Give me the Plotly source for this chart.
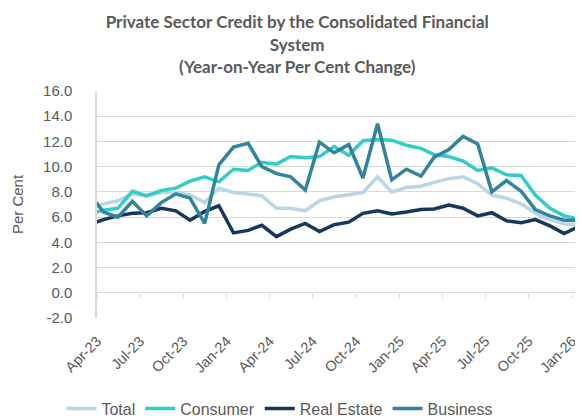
import plotly.graph_objects as go
import pandas as pd

# monthly observations, Mar-23 .. Jan-26 (Mar-23 sits just left of the axis start)
months = pd.date_range("2023-03-01", "2026-01-01", freq="MS") + pd.Timedelta(days=14)

total = [6.65, 7.05, 7.3, 7.85, 7.65, 7.95, 7.95, 7.75, 7.15, 8.3,
         7.95, 7.8, 7.7, 6.7, 6.7, 6.5, 7.3, 7.6, 7.8, 7.95, 9.2, 8.0,
         8.35, 8.45, 8.75, 9.05, 9.2, 8.65, 7.75, 7.5, 7.05, 6.3, 5.8, 5.45,
         5.4]
consumer = [6.25, 6.55, 6.7, 8.05, 7.7, 8.1, 8.3, 8.85, 9.2, 8.8,
            9.8, 9.7, 10.35, 10.2, 10.8, 10.7, 10.8, 11.6, 10.9, 12.05, 12.15, 12.1,
            11.7, 11.45, 10.95, 10.8, 10.45, 9.7, 9.9, 9.35, 9.3, 7.75, 6.7, 6.1,
            5.85]
real_estate = [5.4, 5.8, 6.1, 6.3, 6.35, 6.7, 6.5, 5.75, 6.45, 6.9,
               4.75, 4.95, 5.35, 4.45, 5.05, 5.5, 4.85, 5.4, 5.6, 6.3, 6.5, 6.25,
               6.4, 6.6, 6.65, 6.95, 6.7, 6.1, 6.35, 5.7, 5.55, 5.8, 5.3, 4.7,
               5.25]
business = [7.9, 6.4, 6.0, 7.25, 6.1, 7.15, 7.85, 7.5, 5.5, 10.15,
            11.55, 11.85, 10.0, 9.45, 9.2, 8.15, 11.95, 11.1, 11.75, 9.1, 13.4, 8.95,
            9.8, 9.25, 10.75, 11.35, 12.4, 11.8, 8.0, 8.9, 8.05, 6.6, 6.1, 5.75,
            5.75]

y_ticks = [-2, 0, 2, 4, 6, 8, 10, 12, 14, 16]
y_ticktext = ["-2.0", "0.0", "2.0", "4.0", "6.0", "8.0", "10.0", "12.0", "14.0", "16.0"]

series = [
    ("Total", total, "#b7d7e2"),
    ("Consumer", consumer, "#33cccc"),
    ("Real Estate", real_estate, "#17375e"),
    ("Business", business, "#31849b"),
]

grey = "#595959"
grid = "#d9d9d9"
font_fam = "Liberation Sans, Arial, sans-serif"

fig = go.Figure()
for name, vals, col in series:
    fig.add_trace(go.Scatter(x=months, y=vals, name=name, mode="lines",
                             line=dict(color=col, width=3.5)))

# tick marks sitting on the zero line
fig.add_trace(go.Scatter(x=months, y=total, xaxis="x2", mode="lines",
                         line=dict(width=0), opacity=0, showlegend=False,
                         hoverinfo="skip"))

# page body has an 8px margin, so the figure is sized to the remaining window
fig.update_layout(
    width=575, height=408,
    margin=dict(l=89, r=0, t=83, b=98, autoexpand=False),
    paper_bgcolor="white", plot_bgcolor="white",
    font=dict(family=font_fam, color=grey, size=14),
    title=dict(
        text="<b>Private Sector Credit by the Consolidated Financial<br>System<br>(Year-on-Year Per Cent Change)</b>",
        x=0.503, xanchor="center", y=0.95, yanchor="top",
        font=dict(family="Lato, sans-serif", size=17, color=grey),
    ),
    xaxis=dict(
        type="date", range=["2023-04-01", "2026-01-24"],
        tick0="2023-04-01", dtick="M3", tickformat="%b-%y", tickangle=-45,
        showgrid=False, showline=False, ticks="", zeroline=False,
        tickfont=dict(size=14.5, color=grey), ticklabelstandoff=11,
        automargin=False,
    ),
    xaxis2=dict(
        matches="x", overlaying="x", anchor="free", position=2 / 18,
        side="bottom", tick0="2023-04-01", dtick="M3", ticks="outside",
        ticklen=4, tickcolor=grid, tickwidth=1, showticklabels=False,
        showgrid=False, showline=False, zeroline=False, automargin=False,
    ),
    yaxis=dict(
        range=[-2, 16], tickvals=y_ticks, ticktext=y_ticktext,
        showgrid=True, gridcolor=grid, gridwidth=1.3,
        zeroline=True, zerolinecolor=grid, zerolinewidth=1.3,
        showline=True, linecolor=grid, linewidth=1.5,
        tickfont=dict(size=15, color=grey), ticklabelstandoff=20,
        title=dict(text="Per Cent", font=dict(size=15, color=grey), standoff=16),
        automargin=False,
    ),
    legend=dict(
        orientation="h", xref="container", yref="container",
        x=0.473, xanchor="center", y=0.06, yanchor="top",
        font=dict(size=16, color=grey), itemwidth=30,
    ),
)

fig.write_html("out.html")
